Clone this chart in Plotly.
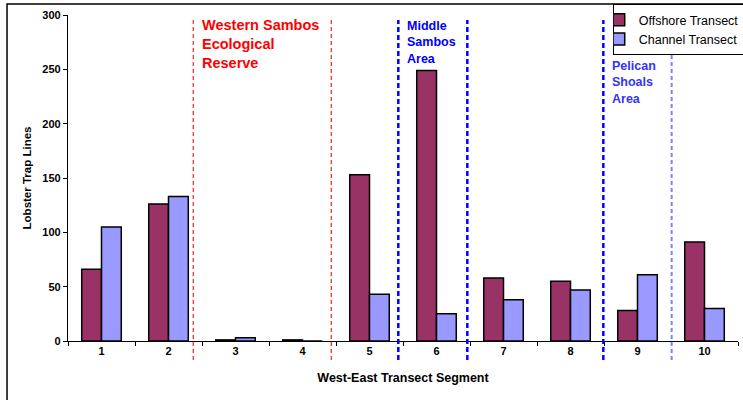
import plotly.graph_objects as go

segments = ["1", "2", "3", "4", "5", "6", "7", "8", "9", "10"]
offshore = [66, 126, 1, 1, 153, 249, 58, 55, 28, 91]
channel = [105, 133, 3, 0, 43, 25, 38, 47, 61, 30]

y_ticks = [0, 50, 100, 150, 200, 250, 300]

# zone boundaries, in category-index units
reserve_bounds = [1.37, 3.43]
middle_bounds = [4.43, 5.46]
pelican_bounds = [7.49, 8.51]

FONT = "Liberation Sans, Arial, sans-serif"

fig = go.Figure()
fig.add_trace(go.Bar(
    x=segments, y=offshore, name="Offshore Transect",
    marker=dict(color="#993366", line=dict(color="black", width=1.5)),
))
fig.add_trace(go.Bar(
    x=segments, y=channel, name="Channel Transect",
    marker=dict(color="#9999FF", line=dict(color="black", width=1.5)),
))

shapes = []
# outer chart frame
shapes.append(dict(type="rect", xref="paper", yref="paper",
                   x0=-0.091, x1=1.02, y0=-0.3, y1=1.0337,
                   line=dict(color="black", width=1.5), layer="below"))
for xv in reserve_bounds:
    shapes.append(dict(type="line", xref="x", yref="paper", x0=xv, x1=xv,
                       y0=-0.058, y1=0.985,
                       line=dict(color="#FF3333", width=1.3, dash="4px,3px")))
for xv in middle_bounds:
    shapes.append(dict(type="line", xref="x", yref="paper", x0=xv, x1=xv,
                       y0=-0.058, y1=0.985,
                       line=dict(color="#0000FF", width=2.5, dash="5px,3px")))
shapes.append(dict(type="line", xref="x", yref="paper", x0=pelican_bounds[0],
                   x1=pelican_bounds[0], y0=-0.058, y1=0.985,
                   line=dict(color="#0000FF", width=2.5, dash="5px,3px")))
shapes.append(dict(type="line", xref="x", yref="paper", x0=pelican_bounds[1],
                   x1=pelican_bounds[1], y0=-0.058, y1=0.985,
                   line=dict(color="#7F7FFF", width=2, dash="4px,3px")))

annotations = [
    dict(text="<b>Western Sambos<br>Ecological<br>Reserve</b>", xref="x", yref="paper",
         x=reserve_bounds[0] + 0.1, y=1.0, xanchor="left", yanchor="top",
         showarrow=False, align="left",
         font=dict(family=FONT, size=14.5, color="#FF0000")),
    dict(text="<b>Middle<br>Sambos<br>Area</b>", xref="x", yref="paper",
         x=middle_bounds[0] + 0.1, y=0.995, xanchor="left", yanchor="top",
         showarrow=False, align="left",
         font=dict(family=FONT, size=12.5, color="#0000FF")),
    dict(text="<b>Pelican<br>Shoals<br>Area</b>", xref="x", yref="paper",
         x=pelican_bounds[0] + 0.1, y=0.872, xanchor="left", yanchor="top",
         showarrow=False, align="left",
         font=dict(family=FONT, size=12.5, color="#3333FF")),
]

fig.update_layout(
    width=743, height=400,
    margin=dict(l=68, r=5, t=15, b=59, autoexpand=False),
    paper_bgcolor="white", plot_bgcolor="white",
    barmode="group", bargap=0.41, bargroupgap=0,
    font=dict(family=FONT, size=11, color="black"),
    shapes=shapes, annotations=annotations,
    legend=dict(x=0.813, y=1.0337, xanchor="left", yanchor="top",
                bordercolor="black", borderwidth=1, bgcolor="white",
                font=dict(family=FONT, size=12.5, color="black"),
                tracegroupgap=0, itemwidth=30, indentation=-15),
    xaxis=dict(
        type="category", showline=True, linecolor="black", linewidth=1.2,
        ticks="outside", ticklen=4, tickcolor="black", tickson="boundaries",
        tickfont=dict(family=FONT, size=11, color="black", weight="bold"),
        title=dict(text="<b>West-East Transect Segment</b>",
                   font=dict(family=FONT, size=12.5), standoff=16),
        range=[-0.5, 9.5], showgrid=False, zeroline=False,
    ),
    yaxis=dict(
        range=[0, 300], tickvals=y_ticks, showline=True, linecolor="black",
        linewidth=1.2, ticks="outside", ticklen=4, tickcolor="black",
        tickfont=dict(family=FONT, size=11, color="black", weight="bold"),
        title=dict(text="<b>Lobster Trap Lines</b>",
                   font=dict(family=FONT, size=11.5), standoff=8),
        showgrid=False, zeroline=False,
    ),
)

fig.write_html("out.html")
